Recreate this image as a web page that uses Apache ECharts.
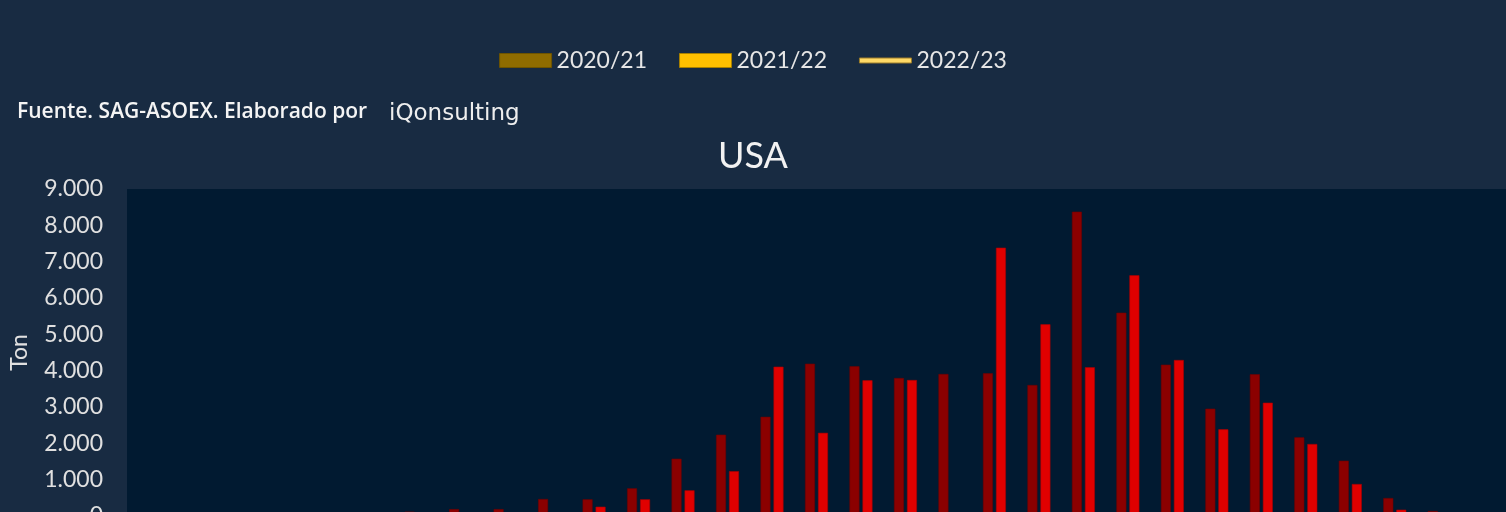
<!DOCTYPE html>
<html>
<head>
<meta charset="utf-8">
<script src="https://cdn.jsdelivr.net/npm/echarts@6/dist/echarts.min.js"></script>
<style>
html,body{margin:0;padding:0;background:#182b42;}
#chart{width:1506px;height:512px;}
</style>
</head>
<body>
<div id="chart"></div>
<script>
// Weeks of the season (category axis, labels fall below the visible area)
const categories = ['S1','S2','S3','S4','S5','S6','S7','S8','S9','S10','S11','S12','S13','S14','S15','S16','S17','S18','S19','S20','S21','S22','S23','S24','S25','S26','S27','S28','S29','S30','S31'];
const seriesNames = ['2020/21','2021/22','2022/23'];
const values2020 = [0,0,0,0,0,0,120,190,190,468,460,762,1577,2238,2730,4192,4120,3798,3909,3927,3606,8376,5596,4165,2954,3900,2166,1522,495,138,0];
const values2021 = [0,0,0,0,0,0,40,50,80,60,256,460,707,1235,4110,2290,3735,3743,0,7385,5276,4093,6625,4294,2386,3119,1982,881,174,0,0];
const values2022 = [];
const yTicks = [0,1000,2000,3000,4000,5000,6000,7000,8000,9000];

const fmt = v => String(v).replace(/\B(?=(\d{3})+(?!\d))/g, '.');
const FONT = 'Lato';

const chart = echarts.init(document.getElementById('chart'), null, {renderer:'canvas'});
chart.setOption({
  backgroundColor: '#182b42',
  animation: false,
  textStyle: {fontFamily: FONT},
  title: {
    text: 'USA', left: 'center', top: 133,
    textStyle: {color: '#f2f2f2', fontSize: 36, fontWeight: 'normal', fontFamily: FONT}
  },
  legend: {
    top: 49, left: 'center', padding: 0,
    itemWidth: 52, itemHeight: 14, itemGap: 32,
    textStyle: {color: '#e6e6e6', fontSize: 23, fontFamily: FONT},
    data: [
      {name: seriesNames[0], icon: 'rect', itemStyle: {color: '#8f6c00', borderColor: '#6e5400', borderWidth: 1}},
      {name: seriesNames[1], icon: 'rect', itemStyle: {color: '#ffc000', borderColor: '#a88000', borderWidth: 1}},
      {name: seriesNames[2], icon: 'path://M0,0L52,0L52,5L0,5Z', itemStyle: {color: '#ffd966', borderColor: '#9c7d2a', borderWidth: 1}}
    ]
  },
  graphic: [
    {type: 'text', left: 17, top: 102, style: {text: 'Fuente. SAG-ASOEX. Elaborado por', fill: '#f4f4f4', font: '600 21px "Open Sans"'}},
    {type: 'text', left: 389, top: 103, style: {text: 'iQonsulting', fill: '#eeeeee', font: '23px "DejaVu Sans"', shadowColor: 'rgba(0,0,0,0.85)', shadowBlur: 4, shadowOffsetX: 2, shadowOffsetY: 2}}
  ],
  grid: {
    left: 127, top: 189, right: 0, bottom: -4,
    outerBoundsMode: 'none',
    show: true, backgroundColor: '#011a31', borderWidth: 0
  },
  xAxis: {
    type: 'category', data: categories,
    axisLine: {show: false}, axisTick: {show: false}, axisLabel: {show: false}
  },
  yAxis: {
    type: 'value', min: yTicks[0], max: yTicks[yTicks.length-1], interval: 1000,
    name: 'Ton', nameLocation: 'middle', nameGap: 96, nameRotate: 90,
    nameTextStyle: {color: '#e0e0e0', fontSize: 23, fontFamily: FONT},
    axisLine: {show: false}, axisTick: {show: false}, splitLine: {show: false},
    axisLabel: {color: '#e0e0e0', fontSize: 23, fontFamily: FONT, margin: 24, formatter: v => fmt(v)}
  },
  series: [
    {name: seriesNames[0], type: 'bar', data: values2020, barWidth: 10, barGap: '30%',
     itemStyle: {color: '#8b0000', borderColor: '#6e0000', borderWidth: 0.6}},
    {name: seriesNames[1], type: 'bar', data: values2021, barWidth: 10, barGap: '30%',
     itemStyle: {color: '#e00000', borderColor: '#a80000', borderWidth: 0.6}},
    {name: seriesNames[2], type: 'line', data: values2022, symbol: 'none',
     itemStyle: {color: '#ffd966'}, lineStyle: {color: '#ffd966', width: 4}}
  ]
});
</script>
</body>
</html>
